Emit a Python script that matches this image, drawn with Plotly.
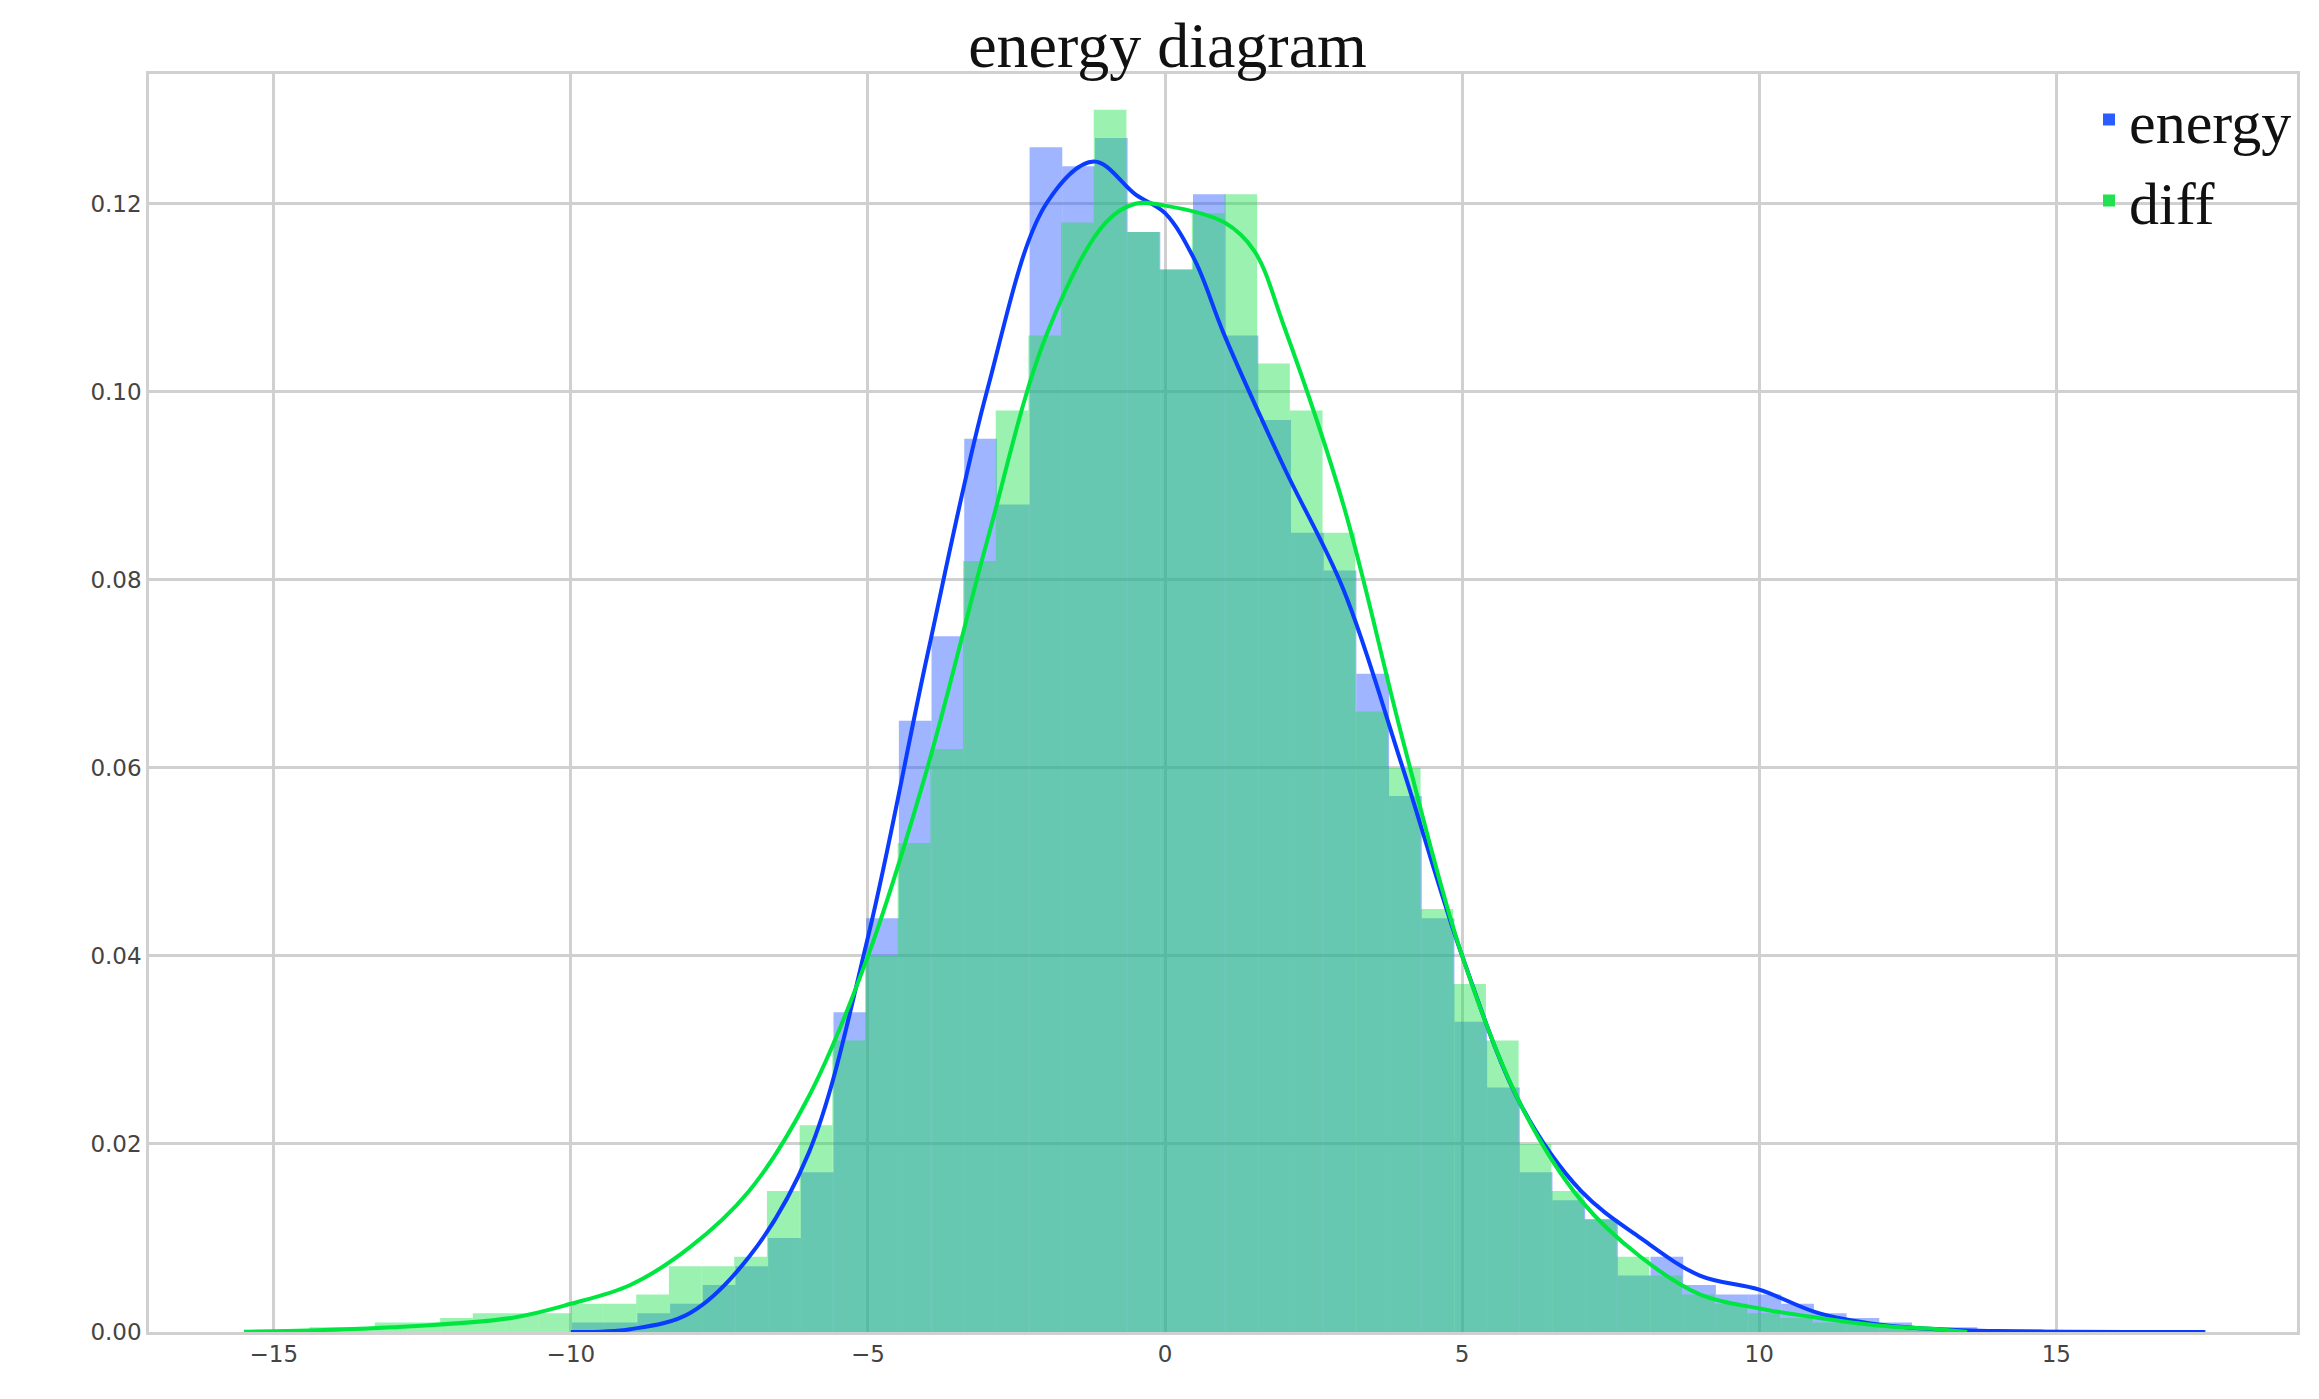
import numpy as np
import plotly.graph_objects as go

# histogram bins (left edge of first bin, bin width) and heights
energy_start, energy_width = -9.98, 0.55
energy_hist = [0.001, 0.001, 0.002, 0.003, 0.005, 0.007, 0.010, 0.017, 0.034, 0.044,
               0.065, 0.074, 0.095, 0.088, 0.126, 0.124, 0.127, 0.117, 0.113, 0.121,
               0.106, 0.097, 0.085, 0.081, 0.070, 0.057, 0.044, 0.033, 0.026, 0.017,
               0.014, 0.012, 0.006, 0.008, 0.005, 0.004, 0.004, 0.003, 0.002, 0.0015,
               0.001, 0.0005, 0.0005, 0.0003, 0.0003, 0.0002, 0.0002, 0.0002, 0.0002, 0.0002]

diff_start, diff_width = -15.5, 0.55
diff_hist = [0.0003, 0.0003, 0.0005, 0.0005, 0.001, 0.001, 0.0015, 0.002, 0.002, 0.002,
             0.003, 0.003, 0.004, 0.007, 0.007, 0.008, 0.015, 0.022, 0.031, 0.040,
             0.052, 0.062, 0.082, 0.098, 0.106, 0.118, 0.130, 0.117, 0.113, 0.119,
             0.121, 0.103, 0.098, 0.085, 0.066, 0.060, 0.045, 0.037, 0.031, 0.020,
             0.015, 0.012, 0.008, 0.006, 0.004, 0.003, 0.002, 0.0015, 0.001, 0.001,
             0.0005, 0.0005, 0.0003]

# density curves
energy_kde_x = [-10, -9, -8, -7, -6, -5, -4, -3, -2, -1.2, -0.5, 0, 0.5, 1, 2, 3, 4, 5,
                6, 7, 8, 9, 10, 11, 12, 13, 14, 17.5]
energy_kde_y = [0, 0.0003, 0.002, 0.008, 0.019, 0.042, 0.072, 0.100, 0.120, 0.1245,
                0.121, 0.119, 0.114, 0.106, 0.092, 0.079, 0.060, 0.040, 0.024, 0.015,
                0.010, 0.006, 0.0045, 0.002, 0.0008, 0.0003, 0.0001, 0]
diff_kde_x = [-15.5, -13, -11, -10, -9, -8, -7, -6, -5, -4, -3, -2, -1, -0.5, 0, 1, 1.5,
              2, 3, 4, 5, 6, 7, 8, 9, 10, 11, 12, 13, 13.5]
diff_kde_y = [0, 0.0005, 0.0015, 0.003, 0.005, 0.009, 0.015, 0.025, 0.040, 0.060, 0.084,
              0.106, 0.118, 0.120, 0.1198, 0.118, 0.115, 0.107, 0.088, 0.063, 0.040,
              0.024, 0.014, 0.008, 0.004, 0.0025, 0.0015, 0.0007, 0.0003, 0]

energy_x = energy_start + energy_width * (np.arange(len(energy_hist)) + 0.5)
diff_x = diff_start + diff_width * (np.arange(len(diff_hist)) + 0.5)

fig = go.Figure()
fig.add_trace(go.Bar(x=energy_x, y=energy_hist, width=energy_width, name="energy",
                     marker=dict(color="#2a5cff", opacity=0.45, line_width=0)))
fig.add_trace(go.Bar(x=diff_x, y=diff_hist, width=diff_width, name="diff",
                     marker=dict(color="#22e050", opacity=0.45, line_width=0)))
fig.add_trace(go.Scatter(x=energy_kde_x, y=energy_kde_y, mode="lines", showlegend=False,
                         line=dict(color="#0a3cff", width=4, shape="spline")))
fig.add_trace(go.Scatter(x=diff_kde_x, y=diff_kde_y, mode="lines", showlegend=False,
                         line=dict(color="#00e640", width=4, shape="spline")))

axis_style = dict(showgrid=True, gridcolor="#d0d0d0", gridwidth=2.5, zeroline=False,
                  showline=True, linecolor="#d0d0d0", linewidth=2.5, mirror=True,
                  ticks="", tickfont=dict(family="DejaVu Sans", size=23, color="#444"))

fig.update_layout(
    barmode="overlay",
    width=2319, height=1399,
    plot_bgcolor="white", paper_bgcolor="white",
    margin=dict(l=141, r=30, t=66, b=75),
    title=dict(text="energy diagram", x=0.5, xanchor="center", y=0.99, yanchor="top",
               font=dict(family="Liberation Serif", size=64, color="#111")),
    xaxis=dict(range=[-17.1, 19.05], tickvals=[-15, -10, -5, 0, 5, 10, 15], **axis_style),
    yaxis=dict(range=[0, 0.1338], tickvals=[0, 0.02, 0.04, 0.06, 0.08, 0.1, 0.12],
               tickformat=".2f", **axis_style),
    legend=dict(x=1, y=1, xanchor="right", yanchor="top", bgcolor="rgba(0,0,0,0)",
                font=dict(family="Liberation Serif", size=60, color="#111")),
)

fig.write_html("out.html")
